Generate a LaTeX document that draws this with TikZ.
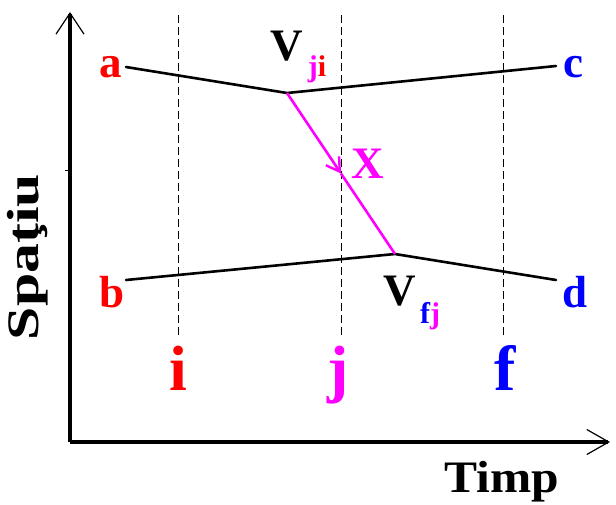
\documentclass[tikz,border=0pt]{standalone}
\usepackage{fontspec}
\setmainfont{Liberation Serif}
\usetikzlibrary{arrows.meta}
\definecolor{cred}{RGB}{255,0,0}
\definecolor{cmag}{RGB}{255,0,255}
\definecolor{cblue}{RGB}{0,0,255}
\begin{document}
\begin{tikzpicture}[x=1pt,y=-1pt,
  axis/.style={line width=3.5pt},
  pathline/.style={line width=2.6pt,line cap=round},
  guide/.style={line width=0.9pt,dash pattern=on 8pt off 4pt},
  lbl/.style={inner sep=0pt,anchor=base,font=\fontsize{45}{45}\selectfont\bfseries},
  big/.style={inner sep=0pt,anchor=base,font=\fontsize{64}{64}\selectfont\bfseries},
  sub/.style={inner sep=0pt,anchor=base,font=\fontsize{30}{30}\selectfont\bfseries}]
\useasboundingbox (0,0) rectangle (616,504);
% axes
\coordinate (O) at (70,442);
\coordinate (Ytop) at (70,12);
\coordinate (Xend) at (610,442);
\draw[axis,-{Straight Barb[length=21pt,width=28pt,line width=1.2pt]}] (O) -- (Ytop);
\draw[axis,-{Straight Barb[length=22pt,width=25pt,line width=1.2pt]}] (O) -- (Xend);
\coordinate (tk1) at (65,170);
\coordinate (tk2) at (70,170);
\draw[line width=0.8pt] (tk1) -- (tk2);
% guides
\coordinate (gi1) at (178,15); \coordinate (gi2) at (178,336);
\coordinate (gj1) at (341,15); \coordinate (gj2) at (341,336);
\coordinate (gf1) at (503,15); \coordinate (gf2) at (503,336);
\draw[guide] (gi1) -- (gi2);
\draw[guide] (gj1) -- (gj2);
\draw[guide] (gf1) -- (gf2);
% world lines
\coordinate (A) at (126,67);
\coordinate (Vji) at (287,93);
\coordinate (C) at (556,66);
\coordinate (B) at (126,280);
\coordinate (Vfj) at (395,254);
\coordinate (D) at (556,280);
\coordinate (M) at (341,173.5);
\draw[pathline] (A) -- (Vji) -- (C);
\draw[pathline] (B) -- (Vfj) -- (D);
\draw[cmag,line width=2.6pt,-{Straight Barb[length=13pt,width=16pt,line width=2.4pt]}] (Vji) -- (M);
\draw[cmag,line width=2.6pt] (M) -- (Vfj);
% labels
\node[lbl,cred] (la) at (111,77) {a};
\node[lbl,cred] (lb) at (112,307) {b};
\node[lbl,cblue] (lc) at (573,77) {c};
\node[lbl,cblue] (ld) at (575,307) {d};
\node[lbl] (lv1) at (287,60) {V};
\node[sub] (lv1s) at (317,76) {\textcolor{cmag}{j}\textcolor{cred}{i}};
\node[lbl] (lv2) at (400,305) {V};
\node[sub] (lv2s) at (430,323) {\textcolor{cblue}{f}\textcolor{cmag}{j}};
\node[lbl,cmag] (lx) at (368,178) {X};
\node[big,cred] (li) at (178,390) {i};
\node[big,cmag] (lj) at (338,390) {j};
\node[big,cblue] (lf) at (505,390) {f};
\node[lbl] (lt) at (502,492) {\scalebox{1.1}[1]{Timp}};
\node[lbl,rotate=90] (ls) at (38,257) {\scalebox{1.33}[1]{Spaţiu}};
\end{tikzpicture}
\end{document}
